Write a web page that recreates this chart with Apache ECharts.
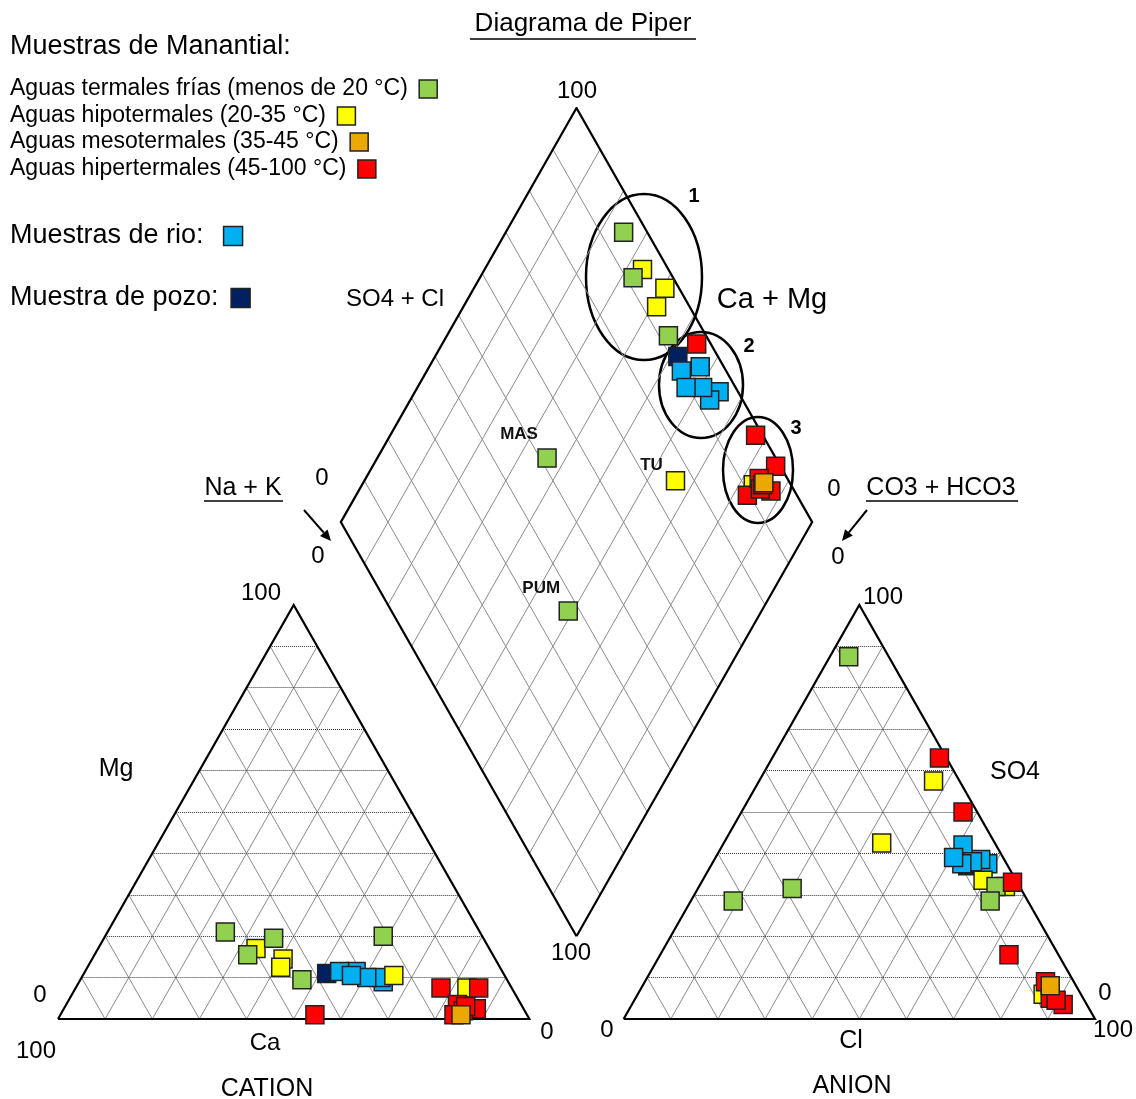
<!DOCTYPE html>
<html lang="es">
<head>
  <meta charset="utf-8">
</head>
<body style="margin: 0; background: #fff">
  <div id="container" style="width: 1136px; height: 1099px"></div>
  <script src="https://cdn.jsdelivr.net/npm/echarts@6/dist/echarts.min.js"></script>
  <script>
    var FONT = 'Liberation Sans, Arial, sans-serif';

    // grupos de muestras (nombre de la serie = texto de leyenda)
    var groups = [
      'Aguas termales frías (menos de 20 °C)',
      'Aguas hipotermales (20-35 °C)',
      'Aguas mesotermales (35-45 °C)',
      'Aguas hipertermales (45-100 °C)',
      'Muestras de rio:',
      'Muestra de pozo:'
    ];
    var colors = ['#92D050', '#FFFF00', '#EAA800', '#FF0000', '#00B0F0', '#002060'];

    // cationes en % meq: [Ca, Mg, Na+K]
    // aniones en % meq: [CO3+HCO3, SO4, Cl]
    var friaCation = [[54, 21, 25], [52, 15.5, 32.5], [43.5, 9.5, 47], [44.5, 19.5, 36], [21, 20, 59]];
    var friaAnion = [[5, 32, 63], [8.5, 87.5, 4], [8, 28.5, 63.5], [48.5, 31.5, 20], [62.5, 28.5, 9]];
    var friaNames = ['', '', '', 'MAS', 'PUM'];

    var hipoCation = [[49.5, 17, 33.5], [45, 14.5, 40.5], [46.5, 12.5, 41], [23.5, 10.5, 66], [9.5, 7.5, 83]];
    var hipoAnion = [[5.5, 57.5, 37], [3, 32, 65], [7, 33.5, 59.5], [24, 42.5, 33.5], [8, 6, 86]];
    var hipoNames = ['', '', '', 'TU', ''];

    var mesoCation = [[14, 1, 85]];
    var mesoAnion = [[5.5, 8, 86.5]];

    var hiperCation = [[45, 1, 54], [15, 7.5, 77.5], [7, 7.5, 85.5], [10, 2.5, 87.5], [13.5, 3.5, 83],
      [15.5, 1, 83.5], [13, 2, 85], [12, 3, 85]];
    var hiperAnion = [[3, 50, 47], [1.5, 63, 35.5], [1, 33, 66], [5, 3.5, 91.5], [10.5, 15.5, 74],
      [6, 9, 85], [7, 5, 88], [6, 4.5, 89.5]];

    var rioCation = [[26.5, 9, 64.5], [31, 11.5, 57.5], [26.5, 10, 63.5], [29.5, 10, 60.5], [34.5, 11.5, 54], [32.5, 10.5, 57]];
    var rioAnion = [[4, 37.5, 58.5], [5, 38.5, 56.5], [7, 42, 51], [7, 38, 55], [9.5, 37.5, 53], [10.5, 39, 50.5]];

    var pozoCation = [[37.5, 11, 51.5]];
    var pozoAnion = [[8.5, 37, 54.5]];

    var gridTicks = [10, 20, 30, 40, 50, 60, 70, 80, 90];

    var samples = [
      [friaCation, friaAnion, friaNames],
      [hipoCation, hipoAnion, hipoNames],
      [mesoCation, mesoAnion, []],
      [hiperCation, hiperAnion, []],
      [rioCation, rioAnion, []],
      [pozoCation, pozoAnion, []]
    ];
    var labelOffsets = { MAS: [-28, 0], TU: [-24, 8], PUM: [-27, 0] };

    // coordenadas Piper: triangulo de lado 100, separacion 20
    function cationXY(p) { return [p[2] + p[1] / 2, p[1]]; }
    function anionXY(p) { return [120 + p[2] + p[1] / 2, p[1]]; }
    function diamondXY(c, a) {
      var so4cl = 100 - a[0], camg = 100 - c[2];
      return [110 + (so4cl - camg) / 2, 20 + so4cl + camg];
    }

    var solid = [], dotted = [];
    gridTicks.forEach(function (k) {
      // triangulo de cationes
      dotted.push([[k / 2, k], [100 - k / 2, k]]);
      solid.push([[k, 0], [k + (100 - k) / 2, 100 - k]]);
      solid.push([[100 - k, 0], [(100 - k) / 2, 100 - k]]);
      // triangulo de aniones
      dotted.push([[120 + k / 2, k], [220 - k / 2, k]]);
      solid.push([[120 + k, 0], [120 + k + (100 - k) / 2, 100 - k]]);
      solid.push([[220 - k, 0], [120 + (100 - k) / 2, 100 - k]]);
      // rombo
      solid.push([[110 + k / 2, 20 + k], [110 + (k - 100) / 2, 120 + k]]);
      solid.push([[110 - k / 2, 20 + k], [110 + (100 - k) / 2, 120 + k]]);
    });
    var outlines = [
      [[0, 0], [100, 0], [50, 100], [0, 0]],
      [[120, 0], [220, 0], [170, 100], [120, 0]],
      [[110, 20], [160, 120], [110, 220], [60, 120], [110, 20]]
    ];

    var dom = document.getElementById('container');
    var myChart = echarts.init(dom, null, { renderer: 'canvas' });

    var scatterSeries = groups.map(function (name, gi) {
      var s = samples[gi];
      var data = [];
      s[0].forEach(function (c) { data.push(cationXY(c)); });
      s[1].forEach(function (a) { data.push(anionXY(a)); });
      s[0].forEach(function (c, i) {
        var item = { value: diamondXY(c, s[1][i]) };
        var nm = s[2][i];
        if (nm) {
          item.label = {
            show: true, formatter: nm, position: 'top', offset: labelOffsets[nm],
            fontFamily: FONT, fontWeight: 'bold', fontSize: 17, color: '#111'
          };
        }
        data.push(item);
      });
      return {
        name: name,
        type: 'scatter',
        symbol: 'rect',
        symbolSize: 18,
        animation: false,
        itemStyle: { color: colors[gi], borderColor: '#222', borderWidth: 1.5, opacity: 1 },
        emphasis: { disabled: true },
        data: data
      };
    });
    // orden de dibujo: pozo, rio, hipo, fria, hiper, meso
    var order = [5, 4, 1, 0, 3, 2];
    scatterSeries = order.map(function (i) { return scatterSeries[i]; });

    function txt(s, x, y, size, extra) {
      return Object.assign({
        type: 'text', x: x, y: y, z: 10,
        style: {
          text: s, fontFamily: FONT, fontSize: size, fill: '#000',
          textAlign: 'center', textVerticalAlign: 'middle'
        }
      }, extra || {});
    }
    function bold(s, x, y, size) {
      var t = txt(s, x, y, size);
      t.style.fontWeight = 'bold';
      return t;
    }
    function uline(x1, x2, y) {
      return { type: 'line', z: 10, shape: { x1: x1, y1: y, x2: x2, y2: y }, style: { stroke: '#000', lineWidth: 1.5 } };
    }
    function arrow(x0, y0, x1, y1) {
      var dx = x1 - x0, dy = y1 - y0, len = Math.sqrt(dx * dx + dy * dy);
      var ux = dx / len, uy = dy / len, bx = x1 - 11 * ux, by = y1 - 11 * uy;
      return [
        { type: 'line', z: 10, shape: { x1: x0, y1: y0, x2: bx, y2: by }, style: { stroke: '#000', lineWidth: 2 } },
        {
          type: 'polygon', z: 10,
          shape: { points: [[x1, y1], [bx - 5 * uy, by + 5 * ux], [bx + 5 * uy, by - 5 * ux]] },
          style: { fill: '#000' }
        }
      ];
    }
    function ell(cx, cy, rx, ry) {
      return { type: 'ellipse', z: 1, shape: { cx: cx, cy: cy, rx: rx, ry: ry }, style: { fill: 'none', stroke: '#000', lineWidth: 2.5 } };
    }

    var graphics = [
      txt('Diagrama de Piper', 583, 24, 26), uline(470, 696, 39),
      txt('Muestras de Manantial:', 10, 47, 27, {}),
      txt('100', 577, 91, 24),
      txt('SO4 + Cl', 395, 299, 24),
      txt('Ca + Mg', 772, 300, 29),
      bold('1', 694, 196, 20), bold('2', 749, 346, 20), bold('3', 796, 428, 20),
      ell(644, 277, 58, 83), ell(701, 385, 42, 53), ell(758, 470, 35, 53),
      txt('0', 322, 478, 24), txt('0', 318, 556, 24),
      txt('Na + K', 243, 488, 25), uline(204, 283, 501),
      txt('0', 834, 489, 24), txt('0', 838, 557, 24),
      txt('CO3 + HCO3', 941, 488, 25), uline(866, 1018, 501),
      txt('100', 571, 953, 24),
      txt('100', 261, 593, 24), txt('Mg', 116, 769, 25), txt('0', 40, 995, 24),
      txt('100', 36, 1051, 24), txt('Ca', 265, 1043, 24), txt('0', 547, 1032, 24),
      txt('CATION', 267, 1089, 25),
      txt('100', 883, 597, 24), txt('SO4', 1015, 772, 25), txt('0', 1105, 993, 24),
      txt('100', 1113, 1030, 24), txt('Cl', 851, 1041, 25), txt('0', 607, 1030, 24),
      txt('ANION', 852, 1086, 25)
    ];
    graphics[2].style.textAlign = 'left';
    graphics = graphics.concat(arrow(304, 510, 331, 541), arrow(867, 510, 842, 541));

    // una leyenda por muestra: texto a la izquierda, cuadro despues del texto
    function legendItem(name, top, size, lh, box, pad) {
      return {
        data: [name], orient: 'horizontal', left: 10, top: top, padding: 0,
        align: 'right', icon: 'rect', selectedMode: false,
        itemWidth: box, itemHeight: box,
        itemStyle: { borderColor: '#222', borderWidth: 1.5 },
        formatter: function (n) { return n + pad; },
        textStyle: { fontFamily: FONT, color: '#000', fontSize: size, lineHeight: lh }
      };
    }

    option = {
      animation: false,
      grid: { left: 58, top: 108, width: 1037, height: 911 },
      xAxis: { type: 'value', min: 0, max: 220, show: false },
      yAxis: { type: 'value', min: 0, max: 220, show: false },
      legend: [
        legendItem(groups[0], 76, 23, 26, 18, ' '),
        legendItem(groups[1], 103, 23, 26, 18, ' '),
        legendItem(groups[2], 129, 23, 26, 18, ' '),
        legendItem(groups[3], 156, 23, 26, 18, ' '),
        legendItem(groups[4], 221, 27, 30, 19, '  '),
        legendItem(groups[5], 283, 27, 30, 19, ' ')
      ],
      graphic: graphics,
      series: [
        {
          type: 'lines', coordinateSystem: 'cartesian2d', silent: true, animation: false,
          lineStyle: { color: '#8a8a8a', width: 1, opacity: 1 },
          data: solid.map(function (s) { return { coords: s }; })
        },
        {
          type: 'lines', coordinateSystem: 'cartesian2d', silent: true, animation: false,
          lineStyle: { color: '#333', width: 1, type: 'dotted', opacity: 1 },
          data: dotted.map(function (s) { return { coords: s }; })
        },
        {
          type: 'lines', coordinateSystem: 'cartesian2d', polyline: true, silent: true, animation: false,
          lineStyle: { color: '#000', width: 2.2, opacity: 1 },
          data: outlines.map(function (s) { return { coords: s }; })
        }
      ].concat(scatterSeries)
    };

    myChart.setOption(option);
    window.addEventListener('resize', myChart.resize);
  </script>
</body>
</html>
